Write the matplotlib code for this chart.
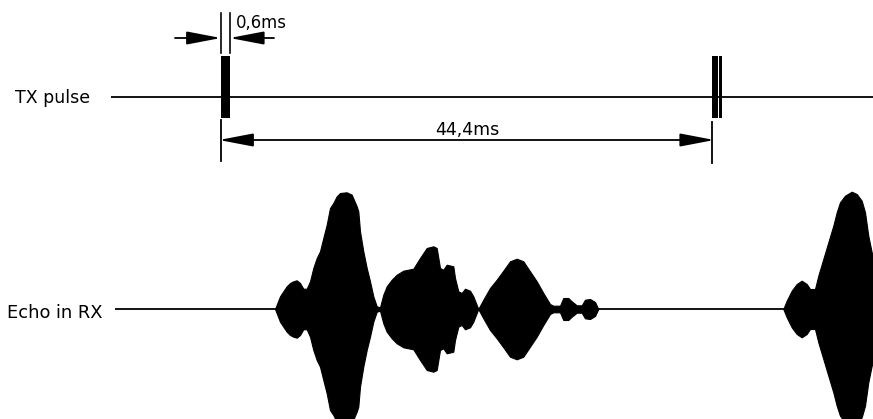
import matplotlib
matplotlib.use("Agg")
import matplotlib.pyplot as plt
import numpy as np

# ---- data (diagram units = pixels of the reference, time axis to the right) ----
labels = ["TX pulse", "Echo in RX"]
tx_pulse_starts = [221.0, 712.3, 718.7]     # left edges of pulse bars
tx_pulse_widths = [8.7, 5.4, 3.6]
pulse_width_label = "0,6ms"
period_label = "44,4ms"

# echo envelope (x position, half amplitude)
echo1_x = [275.0, 276.7, 280.0, 283.3, 286.7, 290.0, 293.3, 296.7, 300.0, 303.3, 306.7,
           310.0, 313.3, 316.7, 320.0, 323.3, 326.7, 330.0, 333.3, 336.7, 340.0, 346.7,
           351.7, 356.7, 358.3, 360.0, 363.3, 366.7, 370.0, 373.3, 376.7, 380.0, 383.3,
           386.7, 391.7, 396.7, 403.3, 413.3, 420.0, 426.7, 433.3, 436.7, 440.0, 443.3,
           446.7, 453.3, 455.0, 458.3, 461.7, 465.0, 470.0, 473.3, 478.3, 483.3, 490.0,
           496.7, 503.3, 510.0, 516.7, 523.3, 530.0, 536.7, 543.3, 550.0, 553.3, 560.0,
           563.3, 568.3, 571.7, 576.7, 581.7, 585.0, 590.0, 595.0, 598.3]
echo1_amp = [0, 4.3, 12.7, 17.7, 22.7, 26, 27.7, 28.7, 26, 20.3, 20.3,
             27.7, 41, 51, 57.7, 71, 84.3, 101, 106, 112.7, 116, 116.7,
             114.3, 102.7, 97.7, 77.7, 57.7, 41, 27.7, 12.7, 2.7, 1.7, 14.3,
             22.7, 29.3, 34.3, 38.3, 40.3, 51, 61, 62.7, 61, 41, 39.3,
             44.3, 42.7, 31, 17.7, 16, 20.3, 18.3, 12.7, 0, 9.3, 21,
             29.3, 38.3, 47.7, 50.3, 47.7, 37.7, 27.7, 16, 5, 3.3, 3.3,
             11, 11, 7.7, 3.7, 3.7, 9.3, 10, 7, 0]
echo2_x = [783.3, 786.7, 791.7, 796.7, 801.7, 806.7, 810.0, 815.0, 818.3, 823.3, 828.3,
           833.3, 836.7, 840.0, 845.0, 851.7, 856.7, 861.7, 865.0, 868.3, 871.7, 880, 890, 895]
echo2_amp = [0, 8.3, 18.3, 25, 28.3, 25, 20, 20, 33.3, 50, 66.7,
             83.3, 96.7, 106.7, 113.3, 117.3, 115, 108.3, 96.7, 73.3, 56.7, 30, 5, 0]

# ---- layout ----
W, H = 873, 419
fig = plt.figure(figsize=(W / 100, H / 100), dpi=100)
ax = fig.add_axes([0, 0, 1, 1])
ax.set_xlim(0, W)
ax.set_ylim(H, 0)
ax.axis("off")

tx_y = 97
rx_y = 309
lw = 1.3
fs = 12.5
font = "DejaVu Sans"

# labels
ax.text(15, tx_y + 6, labels[0], fontsize=fs, family=font, va="baseline", ha="left")
ax.text(7, rx_y + 9, labels[1], fontsize=fs * 1.03, family=font, va="baseline", ha="left")

# TX baseline
ax.plot([111, W], [tx_y, tx_y], color="black", lw=lw, solid_capstyle="butt")
# TX pulses
p_top, p_bot = 56, 118
for x0, w in zip(tx_pulse_starts, tx_pulse_widths):
    ax.add_patch(plt.Rectangle((x0, p_top), w, p_bot - p_top,
                               facecolor="black", edgecolor="none"))

# RX baseline + echoes
ax.plot([115, W], [rx_y, rx_y], color="black", lw=lw, solid_capstyle="butt")
for ex, ea in ((echo1_x, echo1_amp), (echo2_x, echo2_amp)):
    ex = np.array(ex, float)
    ea = np.array(ea, float)
    ax.fill_between(ex, rx_y - ea, rx_y + ea, color="black", lw=0.8, edgecolor="black")

def arrow(x_from, x_to, y, style="-|>"):
    ax.annotate("", xy=(x_to, y), xytext=(x_from, y),
                arrowprops=dict(arrowstyle=f"{style},head_length=21,head_width=4",
                                mutation_scale=1, color="black", lw=lw,
                                shrinkA=0, shrinkB=0))

# 0,6ms dimension
x1 = tx_pulse_starts[0]
x2 = tx_pulse_starts[0] + tx_pulse_widths[0]
for xv in (x1, x2):
    ax.plot([xv, xv], [13, 53], color="black", lw=lw * 0.9)
arrow(175, x1, 38)
arrow(274, x2, 38)
ax.text(236, 28, pulse_width_label, fontsize=fs * 0.95, family=font, va="baseline", ha="left")

# 44,4ms dimension
x3 = tx_pulse_starts[1]
ax.plot([x1, x1], [120, 161], color="black", lw=lw)
ax.plot([x3, x3], [122, 163], color="black", lw=lw)
ax.annotate("", xy=(x3 + 2, 140), xytext=(x1 - 2, 140),
            arrowprops=dict(arrowstyle="<|-|>,head_length=21,head_width=4",
                            mutation_scale=1, color="black", lw=lw,
                            shrinkA=0, shrinkB=0))
ax.text(435, 135, period_label, fontsize=fs, family=font, va="baseline", ha="left")

fig.savefig("out.png", dpi=100)
